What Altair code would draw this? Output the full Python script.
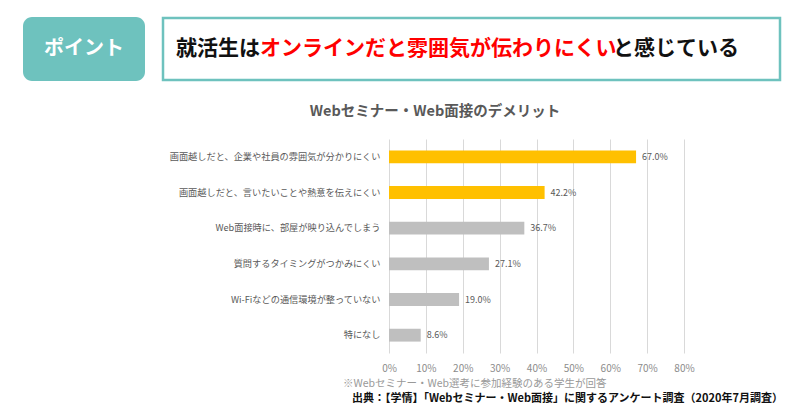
import altair as alt
import pandas as pd

categories = [
    "画面越しだと、企業や社員の雰囲気が分かりにくい",
    "画面越しだと、言いたいことや熱意を伝えにくい",
    "Web面接時に、部屋が映り込んでしまう",
    "質問するタイミングがつかみにくい",
    "Wi-Fiなどの通信環境が整っていない",
    "特になし",
]
values = [67.0, 42.2, 36.7, 27.1, 19.0, 8.6]
highlight = ["yes", "yes", "no", "no", "no", "no"]
x_ticks = [0, 10, 20, 30, 40, 50, 60, 70, 80]

chart_title = "Webセミナー・Web面接のデメリット"
badge_text = "ポイント"
headline_parts = ["就活生は", "オンラインだと雰囲気が伝わりにくい", "と感じている"]
footnote = "※Webセミナー・Web選考に参加経験のある学生が回答"
source = "出典：【学情】「Webセミナー・Web面接」に関するアンケート調査（2020年7月調査）"

FONT = "Noto Sans CJK JP"
TEAL = "#6EC2BE"

df = pd.DataFrame({"cat": categories, "val": values, "hl": highlight})
df["label"] = [f"{v:.1f}%" for v in values]
one = pd.DataFrame({"k": [0]})

y_enc = alt.Y("cat:N", sort=categories, title=None,
              scale=alt.Scale(paddingInner=0.64, paddingOuter=0.32),
              axis=alt.Axis(domain=False, ticks=False, labelFontSize=9.2,
                            labelColor="#595959", labelPadding=9,
                            labelLimit=400, labelFont=FONT))
x_enc = alt.X("val:Q", title=None,
              scale=alt.Scale(domain=[0, 80], nice=False),
              axis=alt.Axis(values=x_ticks, labelExpr="datum.value + '%'",
                            grid=True, gridColor="#D9D9D9", domain=False,
                            ticks=False, labelFontSize=10, labelColor="#8C8C8C",
                            labelPadding=10, labelFont=FONT,
                            labelOverlap=False, labelFlush=False))

bars = alt.Chart(df).mark_bar().encode(
    x=x_enc, y=y_enc,
    color=alt.Color("hl:N", scale=alt.Scale(domain=["yes", "no"],
                                            range=["#FFC000", "#BFBFBF"]),
                    legend=None),
)
labels = alt.Chart(df).mark_text(align="left", dx=6, fontSize=9,
                                 color="#595959", font=FONT).encode(
    x=x_enc, y=y_enc, text="label:N")

def txt(text, x, y, size, color, weight="normal", align="left"):
    return alt.Chart(one).mark_text(
        text=text, align=align, baseline="middle", fontSize=size,
        color=color, fontWeight=weight, font=FONT,
    ).encode(x=alt.value(x), y=alt.value(y))

badge = alt.Chart(one).mark_rect(color=TEAL, cornerRadius=9).encode(
    x=alt.value(-366), x2=alt.value(-244), y=alt.value(-122), y2=alt.value(-58))
box = alt.Chart(one).mark_rect(fill="white", stroke=TEAL, strokeWidth=2.5).encode(
    x=alt.value(-226), x2=alt.value(391), y=alt.value(-121), y2=alt.value(-59))

layers = [
    badge, box,
    txt(badge_text, -305, -90, 20, "white", "bold", "center"),
    txt(headline_parts[0], -213, -90, 21, "#111111", "bold"),
    txt(headline_parts[1], -129, -90, 21, "#FF0000", "bold"),
    txt(headline_parts[2], 224, -90, 21, "#111111", "bold"),
    txt(chart_title, 46, -27, 14.5, "#595959", "bold", "center"),
    bars, labels,
    txt(footnote, -46, 245, 10.5, "#999999"),
    txt(source, 394, 260, 11, "#111111", "bold", "right"),
]

chart = alt.layer(*layers).properties(
    width=295, height=214,
    autosize=alt.AutoSizeParams(type="none"),
    padding={"left": 381, "top": 131, "right": 108, "bottom": 58},
    background="white",
).configure_view(stroke=None)

chart.save("out.html", embed_options={"renderer": "svg", "actions": False})
